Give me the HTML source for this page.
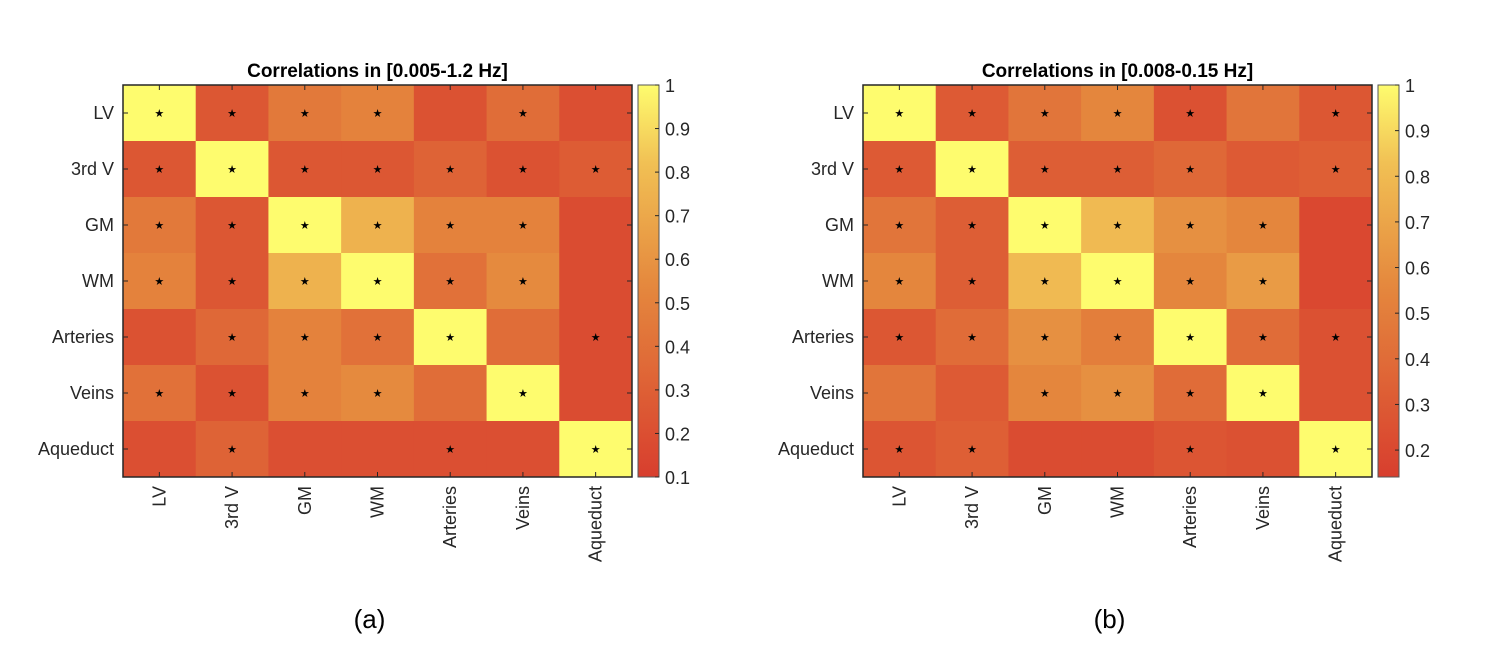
<!DOCTYPE html>
<html><head><meta charset="utf-8">
<style>
body{margin:0;background:#fff;}
svg text{font-family:"Liberation Sans",Arial,sans-serif;fill:#262626;}
</style></head>
<body>
<svg id="fig" width="1504" height="642" viewBox="0 0 1504 642" xmlns="http://www.w3.org/2000/svg"></svg>
<script>
const labels = ["LV","3rd V","GM","WM","Arteries","Veins","Aqueduct"];
const valuesA = [
 [1,.25,.45,.5,.22,.38,.2],
 [.25,1,.25,.25,.32,.22,.28],
 [.45,.25,1,.75,.5,.5,.18],
 [.5,.25,.75,1,.4,.55,.18],
 [.22,.35,.5,.4,1,.38,.18],
 [.4,.22,.5,.55,.38,1,.18],
 [.2,.32,.2,.2,.2,.2,1]];
const starsA = [
 [1,1,1,1,0,1,0],
 [1,1,1,1,1,1,1],
 [1,1,1,1,1,1,0],
 [1,1,1,1,1,1,0],
 [0,1,1,1,1,0,1],
 [1,1,1,1,0,1,0],
 [0,1,0,0,1,0,1]];
const valuesB = [
 [1,.3,.45,.55,.25,.45,.28],
 [.3,1,.32,.32,.38,.3,.33],
 [.45,.32,1,.8,.6,.55,.2],
 [.55,.32,.8,1,.55,.65,.2],
 [.28,.4,.6,.5,1,.4,.25],
 [.45,.3,.55,.6,.4,1,.25],
 [.27,.33,.22,.22,.27,.25,1]];
const starsB = [
 [1,1,1,1,1,0,1],
 [1,1,1,1,1,0,1],
 [1,1,1,1,1,1,0],
 [1,1,1,1,1,1,0],
 [1,1,1,1,1,1,1],
 [0,0,1,1,1,1,0],
 [1,1,0,0,1,0,1]];
const ticksA = [0.1,0.2,0.3,0.4,0.5,0.6,0.7,0.8,0.9,1];
const ticksB = [0.2,0.3,0.4,0.5,0.6,0.7,0.8,0.9,1];
const titleA = "Correlations in [0.005-1.2 Hz]";
const titleB = "Correlations in [0.008-0.15 Hz]";

const NS="http://www.w3.org/2000/svg";
const svg=document.getElementById('fig');
function mk(tag,attrs,parent){const e=document.createElementNS(NS,tag);for(const k in attrs)e.setAttribute(k,attrs[k]);(parent||svg).appendChild(e);return e;}
const stops=[[0,[216,62,46]],[0.5,[229,138,62]],[0.8,[241,192,84]],[1,[254,252,110]]];
function cmap(t){t=Math.max(0,Math.min(1,t));for(let i=1;i<stops.length;i++){if(t<=stops[i][0]){const a=stops[i-1],b=stops[i];const f=(t-a[0])/(b[0]-a[0]);const c=a[1].map((v,j)=>Math.round(v+(b[1][j]-v)*f));return `rgb(${c[0]},${c[1]},${c[2]})`;}}return 'rgb(254,252,110)';}

function panel(x0,vals,stars,ticks,vmin,vmax,title,tag,id){
  const y0=85,W=509,H=392,n=labels.length,cw=W/n,ch=H/n;
  const g=mk('g',{});
  
  
  const xs=i=>x0+i*cw, ys=i=>y0+i*ch;
  const norm=v=>(v-vmin)/(vmax-vmin);
  for(let r=0;r<n;r++)for(let c=0;c<n;c++){
    const rc=mk('rect',{x:xs(c),y:ys(r),width:cw+0.5,height:ch+0.5,fill:cmap(norm(vals[r][c]))},g);
    
    
    if(stars[r][c]){const s=mk('text',{x:xs(c)+cw/2,y:ys(r)+ch/2+4,'text-anchor':'middle','font-size':'11',style:'fill:#000;font-family:"DejaVu Sans",sans-serif'},g);s.textContent='★';
      
      }
  }
  const box=mk('rect',{x:x0,y:y0,width:W,height:H,fill:'none',stroke:'#262626','stroke-width':'1.5'},g);
  
  
  for(let i=0;i<n;i++){
    const cx=xs(i)+cw/2, cy=ys(i)+ch/2;
    mk('line',{x1:cx,y1:y0+H,x2:cx,y2:y0+H-5,stroke:'#262626'},g);
    mk('line',{x1:cx,y1:y0,x2:cx,y2:y0+5,stroke:'#262626'},g);
    mk('line',{x1:x0,y1:cy,x2:x0+5,y2:cy,stroke:'#262626'},g);
    mk('line',{x1:x0+W,y1:cy,x2:x0+W-5,y2:cy,stroke:'#262626'},g);
    const yl=mk('text',{x:x0-9,y:cy+6,'text-anchor':'end','font-size':'18'},g);yl.textContent=labels[i];
    
    
    const xl=mk('text',{x:0,y:0,'text-anchor':'end','font-size':'18',transform:`translate(${cx+6},${y0+H+9}) rotate(-90)`},g);xl.textContent=labels[i];
    
    
  }
  const t=mk('text',{x:x0+W/2,y:77,'text-anchor':'middle','font-size':'19','font-weight':'bold',style:'fill:#000'},g);t.textContent=title;
  
  
  const bx=x0+W+6,bw=21;
  const defs=mk('defs',{},g);
  const lg=mk('linearGradient',{id:'grad'+id,x1:0,y1:1,x2:0,y2:0},defs);
  for(let k=0;k<=20;k++){mk('stop',{offset:k/20,'stop-color':cmap(k/20)},lg);}
  const cb=mk('rect',{x:bx,y:y0,width:bw,height:H,fill:`url(#grad${id})`,stroke:'#555','stroke-width':'1'},g);
  
  
  const cy=v=>y0+H-(v-vmin)/(vmax-vmin)*H;
  ticks.forEach(v=>{
    const yy=cy(v);
    mk('line',{x1:bx+bw,y1:yy,x2:bx+bw-4,y2:yy,stroke:'#262626'},g);
    const tl=mk('text',{x:bx+bw+6,y:yy+7,'font-size':'18'},g);tl.textContent=String(v);
    
    
  });
  const pl=mk('text',{x:x0+W/2-8,y:628,'text-anchor':'middle','font-size':'26',style:'fill:#000'},g);pl.textContent=tag;
  
  
}
panel(123,valuesA,starsA,ticksA,0.1,1,titleA,'(a)','a');
panel(863,valuesB,starsB,ticksB,0.141,1,titleB,'(b)','b');
</script>
</body></html>
